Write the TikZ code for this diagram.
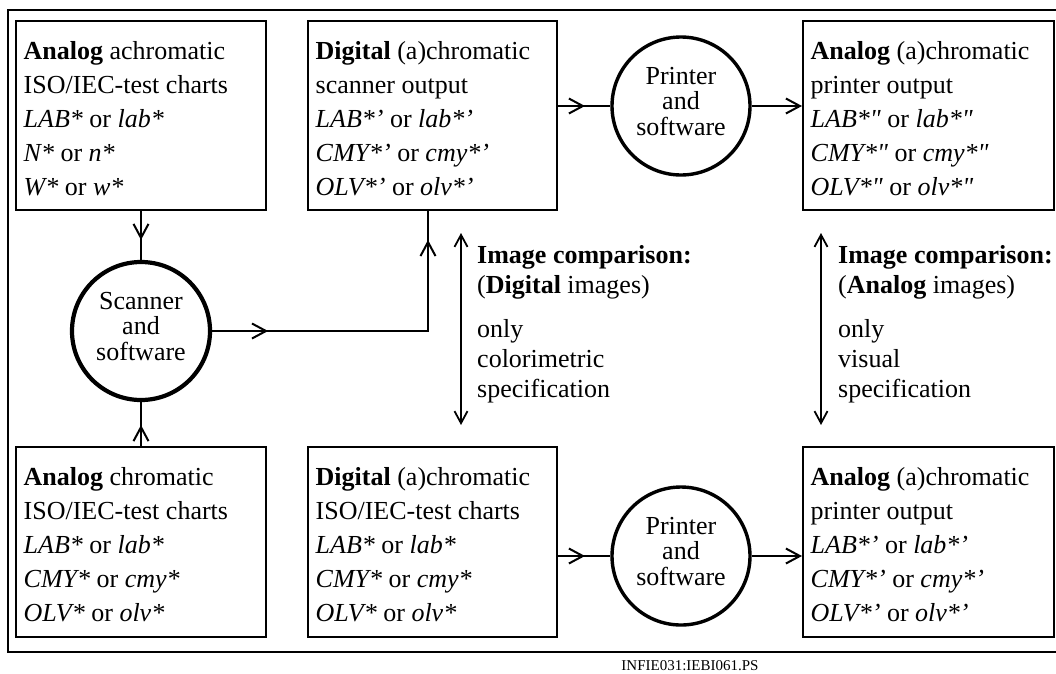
\documentclass[tikz,border=0pt]{standalone}
\usepackage{fontspec}
\setmainfont{Liberation Serif}
\usetikzlibrary{arrows.meta,decorations.markings,calc}
\begin{document}
\begin{tikzpicture}[x=1pt,y=-1pt,
  vbarb/.tip={Straight Barb[length=14pt,width=15pt]},
  sbarb/.tip={Straight Barb[length=12pt,width=13pt]},
  frame/.style={line width=2.3pt},
  box/.style={draw,line width=2pt,inner sep=0pt},
  btext/.style={inner sep=0pt,anchor=north west,align=left,font=\fontsize{26}{34}\selectfont},
  proc/.style={draw,circle,inner sep=0pt,minimum size=138pt,align=center,font=\fontsize{26}{25.5}\selectfont},
  conn/.style={line width=2pt,line join=miter},
  dbl/.style={line width=1.8pt,{sbarb}-{sbarb}},
  ctext/.style={inner sep=0pt,anchor=north west,align=left,font=\fontsize{26}{30}\selectfont},
  midarrow/.style={postaction={decorate,decoration={markings,mark=at position #1 with {\arrow{vbarb}}}}}
]
\useasboundingbox (0,0) rectangle (1056,673);
\draw[frame] (1056,10) -- (8,10) -- (8,652) -- (1056,652);

% boxes
\node[box,minimum width=250pt,minimum height=189pt] (tl) at (141,115.5) {};
\node[box,minimum width=249pt,minimum height=189pt] (tm) at (432.5,115.5) {};
\node[box,minimum width=251pt,minimum height=189pt] (tr) at (928.5,115.5) {};
\node[box,minimum width=250pt,minimum height=190pt] (bl) at (141,542) {};
\node[box,minimum width=249pt,minimum height=190pt] (bm) at (432.5,542) {};
\node[box,minimum width=251pt,minimum height=190pt] (br) at (928.5,542) {};

\node[btext] (tlt) at ([shift={(8.5,21.5)}]tl.north west) {\rule{0pt}{18pt}\textbf{Analog} achromatic\\ISO/IEC-test charts\\\textit{LAB*} or \textit{lab*}\\\textit{N*} or \textit{n*}\\\textit{W*} or \textit{w*}};
\node[btext] (tmt) at ([shift={(8.5,21.5)}]tm.north west) {\rule{0pt}{18pt}\textbf{Digital} (a)chromatic\\scanner output\\\textit{LAB*'} or \textit{lab*'}\\\textit{CMY*'} or \textit{cmy*'}\\\textit{OLV*'} or \textit{olv*'}};
\node[btext] (trt) at ([shift={(8.5,21.5)}]tr.north west) {\rule{0pt}{18pt}\textbf{Analog} (a)chromatic\\printer output\\\textit{LAB*\textquotedbl} or \textit{lab*\textquotedbl}\\\textit{CMY*\textquotedbl} or \textit{cmy*\textquotedbl}\\\textit{OLV*\textquotedbl} or \textit{olv*\textquotedbl}};
\node[btext] (blt) at ([shift={(8.5,21.5)}]bl.north west) {\rule{0pt}{18pt}\textbf{Analog} chromatic\\ISO/IEC-test charts\\\textit{LAB*} or \textit{lab*}\\\textit{CMY*} or \textit{cmy*}\\\textit{OLV*} or \textit{olv*}};
\node[btext] (bmt) at ([shift={(8.5,21.5)}]bm.north west) {\rule{0pt}{18pt}\textbf{Digital} (a)chromatic\\ISO/IEC-test charts\\\textit{LAB*} or \textit{lab*}\\\textit{CMY*} or \textit{cmy*}\\\textit{OLV*} or \textit{olv*}};
\node[btext] (brt) at ([shift={(8.5,21.5)}]br.north west) {\rule{0pt}{18pt}\textbf{Analog} (a)chromatic\\printer output\\\textit{LAB*'} or \textit{lab*'}\\\textit{CMY*'} or \textit{cmy*'}\\\textit{OLV*'} or \textit{olv*'}};

% process circles
\node[proc,line width=4.2pt] (sc) at (141,331) {Scanner\\and\\software\rule[-10pt]{0pt}{10pt}};
\node[proc,line width=3.4pt] (pt) at (681,106) {Printer\\and\\software\rule[-10pt]{0pt}{10pt}};
\node[proc,line width=3.4pt] (pb) at (681,556) {Printer\\and\\software\rule[-10pt]{0pt}{10pt}};

% connectors
\draw[conn,midarrow=29pt] (tl.south) -- (sc.north);
\draw[conn,midarrow=21pt] (bl.north) -- (sc.south);
\coordinate (tmin) at ([xshift=-4.5pt]tm.south);
\draw[conn,postaction={decorate,decoration={markings,
   mark=at position 56pt with {\arrow{vbarb}},
   mark=at position 307pt with {\arrow{vbarb}}}}]
   (sc.east) -| (tmin);
\draw[conn,midarrow=27pt] (pt.west -| tm.east) -- (pt.west);
\draw[conn,-{vbarb}] (pt.east) -- (pt.east -| tr.west);
\draw[conn,midarrow=27pt] (pb.west -| bm.east) -- (pb.west);
\draw[conn,-{vbarb}] (pb.east) -- (pb.east -| br.west);

% comparisons
\coordinate (da1) at (461,233);
\coordinate (db1) at (461,425);
\coordinate (da2) at (821,233);
\coordinate (db2) at (821,425);
\draw[dbl] (da1) -- (db1);
\draw[dbl] (da2) -- (db2);
\node[ctext] (cmp1) at (477,245) {\rule{0pt}{18pt}\textbf{Image comparison:}\\(\textbf{Digital} images)\\[14pt]only\\colorimetric\\specification};
\node[ctext] (cmp2) at (838,245) {\rule{0pt}{18pt}\textbf{Image comparison:}\\(\textbf{Analog} images)\\[14pt]only\\visual\\specification};

\node[anchor=base,inner sep=0pt,font=\fontsize{15}{15}\selectfont] (foot) at (690,670) {INFIE031:IEBI061.PS};
\end{tikzpicture}
\end{document}
